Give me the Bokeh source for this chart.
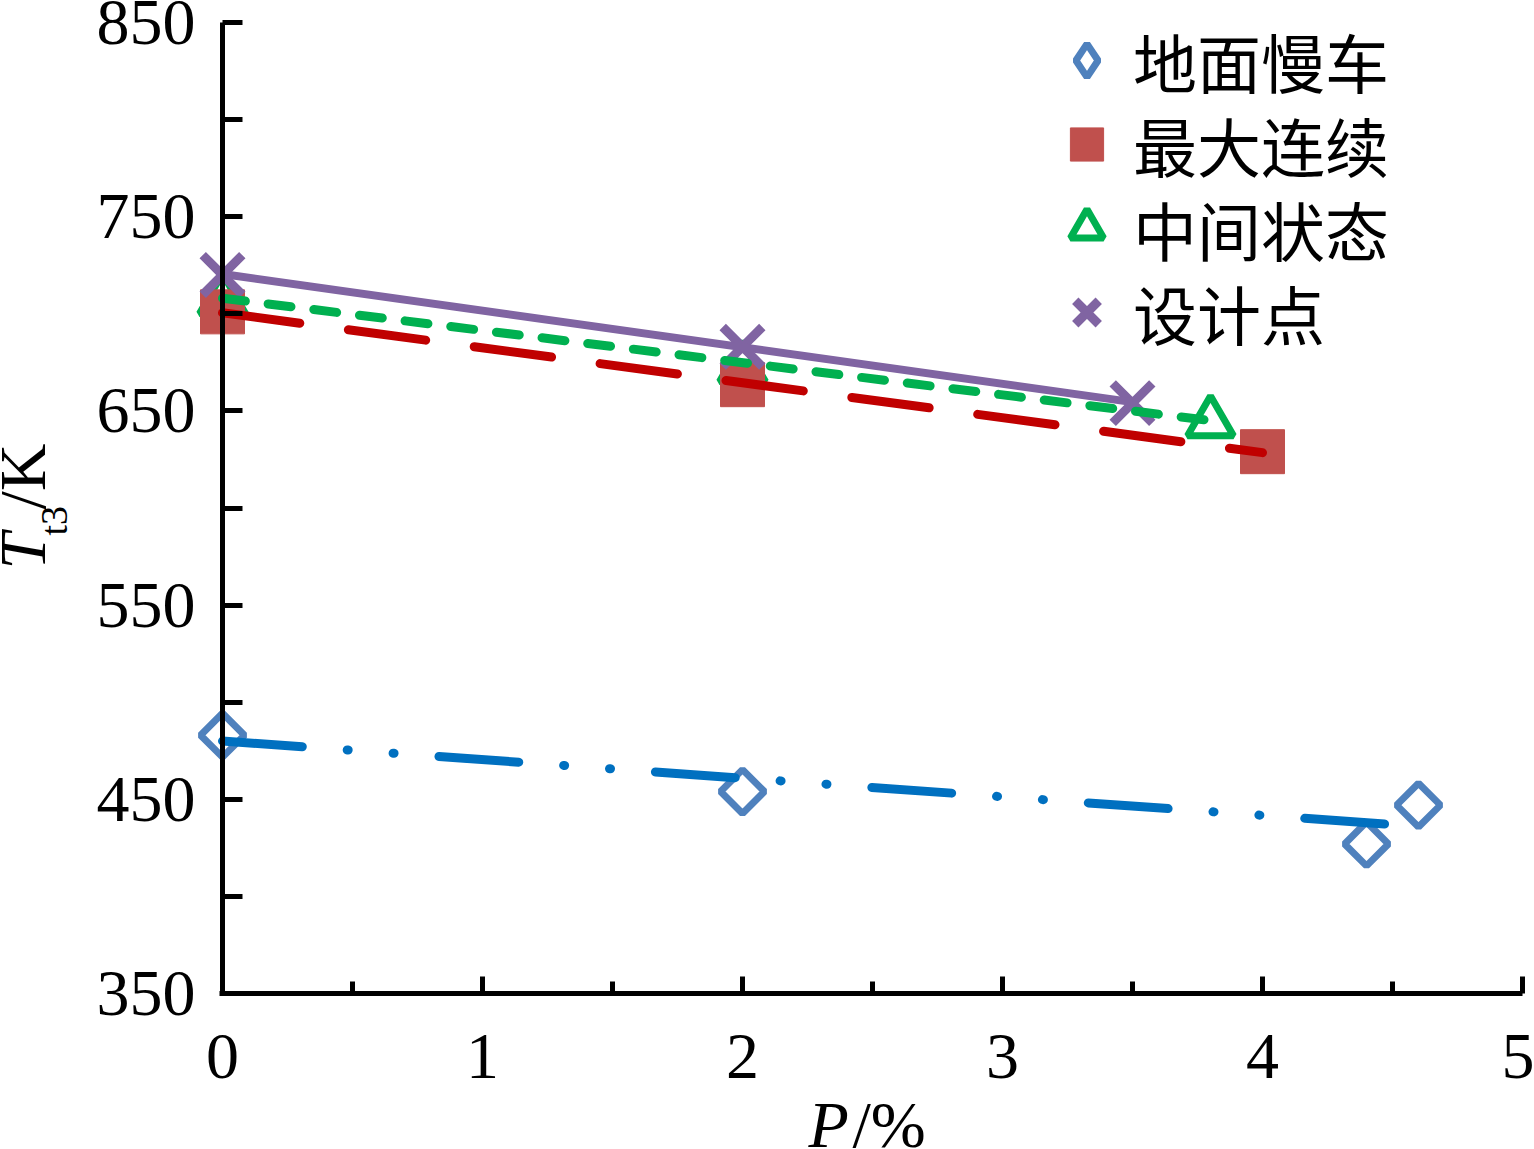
import math
from bokeh.plotting import figure
from bokeh.models import Range1d, FixedTicker, Legend, LegendItem, Label
from bokeh.embed import file_html
from bokeh.resources import INLINE

# ---- data ----
p_idle = [0, 2, 4.4, 4.6]
t_idle = [483, 454, 427, 447]
p_maxc = [0, 2, 4]
t_maxc = [701, 663.5, 629]
p_inter = [0, 2, 3.8]
t_inter = [707, 672, 644]
p_design = [0, 2, 3.5]
t_design = [720, 683, 654]

# linear trend lines (end points)
p_idle_fit = [0, 4.6]
t_idle_fit = [480, 436]
p_maxc_fit = [0, 4]
t_maxc_fit = [700.5, 628.5]
p_inter_fit = [0, 3.8]
t_inter_fit = [708, 645]
p_design_fit = [0, 3.5]
t_design_fit = [720.5, 654.5]

series_names = ["地面慢车", "最大连续", "中间状态", "设计点"]
x_ticks = [0, 1, 2, 3, 4, 5]
x_minor_ticks = [0.5, 1.5, 2.5, 3.5, 4.5]
y_ticks = [350, 450, 550, 650, 750, 850]
y_minor_ticks = [400, 500, 600, 700, 800]

# ---- layout: the frame covers the whole canvas, axes are fixed inside it ----
W, H = 1534, 1149
X0_PX, X5_PX = 222, 1522      # pixel position of P = 0 and P = 5
Y850_PX, Y350_PX = 22, 993    # pixel position of T = 850 and T = 350
xppu = (X5_PX - X0_PX) / 5.0
yppu = (Y350_PX - Y850_PX) / 500.0
x_rng = Range1d(-X0_PX / xppu, (W - X0_PX) / xppu)
y_rng = Range1d(350 - (H - Y350_PX) / yppu, 850 + Y850_PX / yppu)

p = figure(width=W, height=H, x_range=x_rng, y_range=y_rng,
           output_backend="svg", toolbar_location=None, min_border=0)
p.grid.visible = False
p.outline_line_color = None
p.background_fill_color = "white"
p.border_fill_color = "white"

xa = p.xaxis[0]
ya = p.yaxis[0]
xa.ticker = FixedTicker(ticks=x_ticks, minor_ticks=x_minor_ticks)
ya.ticker = FixedTicker(ticks=y_ticks, minor_ticks=y_minor_ticks)
xa.fixed_location = 350
ya.fixed_location = 0
ya.bounds = (350, 850)
xa.bounds = (-0.01, 5)
for ax in (xa, ya):
    ax.axis_line_color = "black"
    ax.axis_line_width = 5
    ax.major_tick_line_color = "black"
    ax.minor_tick_line_color = "black"
    ax.major_tick_line_width = 5
    ax.minor_tick_line_width = 5
    ax.major_tick_out = 0
    ax.minor_tick_out = 0
    ax.major_label_text_font = "Liberation Serif"
    ax.major_label_text_font_size = "66px"
    ax.major_label_text_color = "black"
ya.major_tick_in = 20
ya.minor_tick_in = 20
xa.major_tick_in = 17
xa.minor_tick_in = 12
ya.major_label_standoff = 27
xa.major_label_standoff = 41

# ---- markers ----
r_idle = p.scatter(x=p_idle, y=t_idle, marker="square", angle=math.pi / 4, size=31,
                   fill_color=None, line_color="#4F81BD", line_width=7)
r_inter = p.scatter(x=p_inter, y=t_inter, marker="triangle", size=46,
                    fill_color=None, line_color="#00B050", line_width=7)
r_maxc = p.scatter(x=p_maxc, y=t_maxc, marker="square", size=44,
                   fill_color="#C0504D", line_color="#C0504D", line_width=1)
r_design = p.scatter(x=p_design, y=t_design, marker="x", size=56,
                     line_color="#8064A2", line_width=9)
# legend-only swatch for the diamond (legend glyphs are drawn unrotated); NaN = never drawn
r_idle_key = p.scatter(x=[float("nan")], y=[float("nan")], marker="diamond", size=31,
                       fill_color=None, line_color="#4F81BD", line_width=7)

# ---- trend lines ----
p.line(x=p_idle_fit, y=t_idle_fit, line_color="#0070C0", line_width=9,
       line_dash="80 45 1 45 1 45", line_cap="round")
p.line(x=p_maxc_fit, y=t_maxc_fit, line_color="#C00000", line_width=9,
       line_dash="78 49", line_cap="round")
p.line(x=p_inter_fit, y=t_inter_fit, line_color="#00B050", line_width=9,
       line_dash="23 23", line_cap="round")
p.line(x=p_design_fit, y=t_design_fit, line_color="#8064A2", line_width=8)

# ---- legend: one box per row so the row pitch matches the reference ----
LEG_X = 1045          # left edge of the swatch column (px)
ROW0_CENTER = 60      # centre of the first row (px from top)
ROW_PITCH = 84
ROW_HALF = 46         # half of the row height Bokeh measures for 64px CJK text
key_renderers = [r_idle_key, r_maxc, r_inter, r_design]
for i, (name, rend) in enumerate(zip(series_names, key_renderers)):
    centre = ROW0_CENTER + ROW_PITCH * i
    leg = Legend(items=[LegendItem(label=name, renderers=[rend])],
                 location=(LEG_X, H - (centre + ROW_HALF)), orientation="vertical",
                 glyph_width=83, glyph_height=92, label_height=83, spacing=0,
                 label_standoff=5, padding=0, margin=0,
                 border_line_color=None, background_fill_alpha=0,
                 label_text_font="Noto Sans CJK SC", label_text_font_size="64px",
                 label_text_color="black")
    p.add_layout(leg)

# ---- axis titles (screen px from the bottom-left corner) ----
serif = "Liberation Serif"
def title_part(x, y, text, size, italic=False, angle=0.0):
    return Label(x=x, y=y, x_units="screen", y_units="screen", text=text, angle=angle,
                 text_font=serif, text_font_style="italic" if italic else "normal",
                 text_font_size=size, text_color="black",
                 text_baseline="alphabetic", text_align="left")

p.add_layout(title_part(22, H - 569, "T", "66px", italic=True, angle=math.pi / 2))
p.add_layout(title_part(53, H - 535, "t3", "38px", angle=math.pi / 2))
p.add_layout(title_part(22, H - 509, "/K", "66px", angle=math.pi / 2))
p.add_layout(title_part(808, H - 1124, "P", "66px", italic=True))
p.add_layout(title_part(852, H - 1124, "/%", "66px"))

open("out.html", "w").write(file_html(p, INLINE))
